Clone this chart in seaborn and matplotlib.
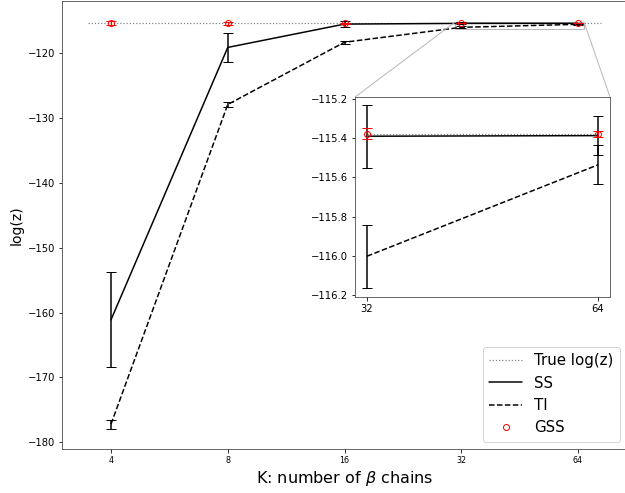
import numpy as np
import matplotlib
matplotlib.use("Agg")
import matplotlib.pyplot as plt
import seaborn as sns
from mpl_toolkits.axes_grid1.inset_locator import mark_inset

# ==============================================================================
# DATA
# ==============================================================================
k_labels = ["4", "8", "16", "32", "64"]
true_logz = -115.377

ss_mean = [-161.1, -119.1, -115.5, -115.39, -115.387]
ss_err = [7.3, 2.2, 0.4, 0.16, 0.10]

ti_mean = [-177.2, -127.9, -118.3, -116.002, -115.536]
ti_err = [0.7, 0.35, 0.25, 0.16, 0.10]

gss_mean = [-115.38, -115.38, -115.38, -115.377, -115.379]
gss_err = [0.3, 0.25, 0.1, 0.028, 0.014]

# ==============================================================================
# STYLE
# ==============================================================================
sns.set_style("ticks")
plt.rcParams.update({
    "font.family": ["DejaVu Sans"],
    "axes.edgecolor": "#444444",
    "xtick.color": "black",
    "ytick.color": "black",
    "text.color": "black",
    "axes.labelcolor": "black",
})

pos = np.arange(len(k_labels))


def draw_series(ax, sl, pad):
    """Desenha as quatro series no eixo dado, apenas para os indices em sl."""
    p = pos[sl]
    ax.hlines(true_logz, p[0] - pad, p[-1] + pad, colors="grey",
              linestyles=":", linewidth=1.2, label="True log(z)")
    sns.lineplot(x=p, y=ss_mean[sl], ax=ax, color="black", linewidth=1.5,
                 label="SS", sort=False)
    ax.errorbar(p, ss_mean[sl], yerr=ss_err[sl], fmt="none", ecolor="black",
                elinewidth=1.5, capsize=5)
    sns.lineplot(x=p, y=ti_mean[sl], ax=ax, color="black", linewidth=1.5,
                 linestyle="--", label="TI", sort=False)
    ax.errorbar(p, ti_mean[sl], yerr=ti_err[sl], fmt="none", ecolor="black",
                elinewidth=1.5, capsize=5)
    ax.plot(p, gss_mean[sl], "o", mfc="none", mec="red", ms=6, label="GSS",
            linestyle="none")
    ax.errorbar(p, gss_mean[sl], yerr=gss_err[sl], fmt="none", ecolor="red",
                elinewidth=1.2, capsize=5)


# ==============================================================================
# FIGURE
# ==============================================================================
fig = plt.figure(figsize=(625 / 72, 493 / 72), dpi=72)
ax = fig.add_axes([62 / 625, 44 / 493, 565 / 625, 448 / 493])
draw_series(ax, slice(0, 5), 0.2)

ax.set_xticks(pos)
ax.set_xticklabels(k_labels, fontsize=8)
ax.tick_params(axis="y", labelsize=10)
ax.set_xlabel(r"K: number of $\beta$ chains", fontsize=16)
ax.set_ylabel("log(z)", fontsize=14)
ax.legend(loc="lower right", fontsize=15, handlelength=2.2)
for s in ["top", "right"]:
    ax.spines[s].set_visible(True)

# inset (zoom em K = 32, 64)
axins = fig.add_axes([355 / 625, (493 - 297) / 493, 255 / 625, 200 / 493])
draw_series(axins, slice(3, 5), 0.0)
if axins.get_legend() is not None:
    axins.get_legend().remove()
axins.set_xlim(2.948, 4.052)
axins.set_ylim(-116.21, -115.19)
axins.set_xticks([3, 4])
axins.set_xticklabels(k_labels[3:], fontsize=10)
axins.set_yticks(np.arange(-116.2, -115.19, 0.2))
axins.tick_params(axis="y", labelsize=10)
for s in axins.spines.values():
    s.set_visible(True)
mark_inset(ax, axins, loc1=2, loc2=1, fc="none", ec="0.72", lw=1)

fig.savefig("out.png", dpi=72)
